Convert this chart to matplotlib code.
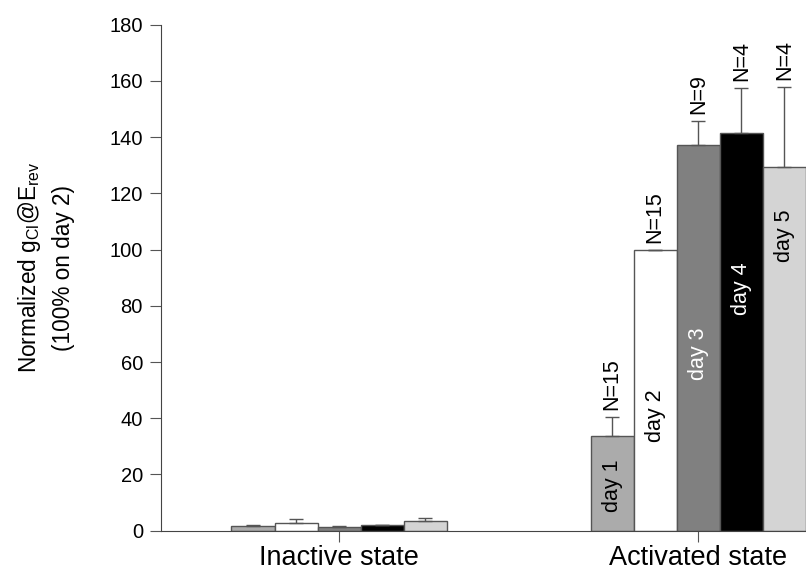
import numpy as np
import matplotlib
matplotlib.use('Agg')
import matplotlib.pyplot as plt

plt.rcParams['font.family'] = ['Liberation Sans', 'DejaVu Sans']
plt.rcParams['mathtext.fontset'] = 'custom'
plt.rcParams['mathtext.rm'] = 'Liberation Sans'
plt.rcParams['mathtext.it'] = 'Liberation Sans'

groups = ['Inactive state', 'Activated state']
days = ['day 1', 'day 2', 'day 3', 'day 4', 'day 5']
inactive_mean = [1.8, 2.8, 1.4, 1.9, 3.3]
inactive_err = [0.4, 1.2, 0.3, 0.3, 1.2]
activated_mean = [33.8, 100.0, 137.2, 141.4, 129.5]
activated_err = [6.8, 0.0, 8.7, 16.0, 28.5]
n_labels = ['N=15', 'N=15', 'N=9', 'N=4', 'N=4']
day_label_y = [16, 41, 63, 86, 105]

colors = ['#ababab', 'white', '#808080', 'black', '#d4d4d4']
day_text_colors = ['black', 'black', 'white', 'white', 'black']

fig = plt.figure(figsize=(8.06, 5.69), dpi=100)
ax = fig.add_axes([0.1998, 0.0673, 0.8002, 0.8893])

w = 0.12
x = np.arange(len(groups))
edge = '#555555'
for i in range(len(days)):
    xpos = x + (i - 2) * w
    means = [inactive_mean[i], activated_mean[i]]
    errs = [inactive_err[i], activated_err[i]]
    ax.bar(xpos, means, width=w, color=colors[i], edgecolor=edge, linewidth=1, zorder=2)
    ax.errorbar(xpos, means, yerr=[[0, 0], errs], fmt='none', ecolor='#555555',
                elinewidth=1, capsize=5, capthick=1, zorder=3)
    top = activated_mean[i] + activated_err[i]
    ax.annotate(n_labels[i], (xpos[1], top), xytext=(0, 5), textcoords='offset points',
                rotation=90, ha='center', va='bottom', fontsize=15.5)
    ax.text(xpos[1], day_label_y[i], days[i], rotation=90, ha='center', va='center',
            fontsize=15.5, color=day_text_colors[i])

ax.set_xlim(-0.496, 1.30)
ax.set_ylim(0, 180)
ax.set_yticks(np.arange(0, 181, 20))
ax.set_xticks(x)
ax.set_xticklabels(groups, fontsize=19.5)
ax.tick_params(axis='y', labelsize=14.5, length=8, color='#555555', pad=5)
ax.tick_params(axis='x', length=8, color='#555555', pad=2)
for s in ['top', 'right']:
    ax.spines[s].set_visible(False)
for s in ['left', 'bottom']:
    ax.spines[s].set_color('#444444')

ax.set_ylabel('Normalized g$_{\\mathregular{Cl}}$@E$_{\\mathregular{rev}}$\n(100% on day 2)',
              fontsize=16.3, linespacing=1.5)
ax.yaxis.set_label_coords(-0.133, 0.52)

fig.savefig('out.png', dpi=100)
